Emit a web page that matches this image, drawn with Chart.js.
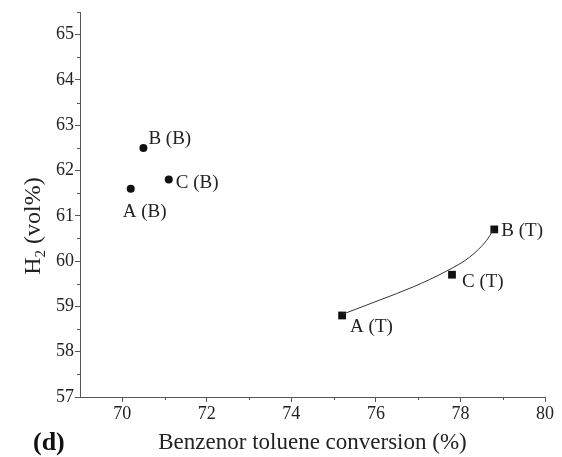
<!DOCTYPE html>
<html>
<head>
<meta charset="utf-8">
<script src="https://cdn.jsdelivr.net/npm/chart.js@4/dist/chart.umd.min.js"></script>
<style>
  html, body { margin: 0; padding: 0; background: #fff; }
  #wrap { width: 562px; height: 457px; position: relative; }
</style>
</head>
<body>
<div id="wrap"><canvas id="myChart"></canvas></div>
<script>
// benzene runs (circles)
const benzLabels = ['A (B)', 'B (B)', 'C (B)'];
const benzX = [70.2, 70.5, 71.1];
const benzY = [61.6, 62.5, 61.8];

// toluene runs (squares)
const tolLabels = ['A (T)', 'B (T)', 'C (T)'];
const tolX = [75.2, 78.8, 77.8];
const tolY = [58.8, 60.7, 59.7];

// fitted curve through the toluene runs
const fitX = [75.22, 76.09, 76.88, 77.67, 78.22, 78.62, 78.77];
const fitY = [58.83, 59.14, 59.43, 59.78, 60.09, 60.46, 60.68];

const serif = "'Liberation Serif', 'Times New Roman', serif";

function toPoints(xs, ys) {
  return xs.map((x, i) => ({ x: x, y: ys[i] }));
}

// where each label sits relative to its marker (px)
const labelOffsets = {
  'A (B)': [-8, 23], 'B (B)': [5, -9], 'C (B)': [7, 3],
  'A (T)': [8, 12], 'B (T)': [7, 2], 'C (T)': [10, 7]
};

const extras = {
  id: 'extras',
  afterDraw(chart) {
    const ctx = chart.ctx;
    const xs = chart.scales.x, ys = chart.scales.y;
    const area = chart.chartArea;
    ctx.save();

    // minor ticks
    ctx.strokeStyle = '#555';
    ctx.lineWidth = 1;
    ctx.beginPath();
    for (let v = 71; v < 80; v += 2) {
      const px = Math.round(xs.getPixelForValue(v)) + 0.5;
      ctx.moveTo(px, area.bottom);
      ctx.lineTo(px, area.bottom + 3);
    }
    for (let v = 57.5; v <= 65.5; v += 1) {
      const py = Math.round(ys.getPixelForValue(v)) + 0.5;
      ctx.moveTo(area.left, py);
      ctx.lineTo(area.left - 3, py);
    }
    ctx.stroke();

    // point labels
    ctx.fillStyle = '#222';
    ctx.font = '19px ' + serif;
    ctx.textBaseline = 'middle';
    ctx.textAlign = 'left';
    [[benzLabels, benzX, benzY], [tolLabels, tolX, tolY]].forEach(([labs, xv, yv]) => {
      labs.forEach((lab, i) => {
        const off = labelOffsets[lab];
        ctx.fillText(lab, xs.getPixelForValue(xv[i]) + off[0], ys.getPixelForValue(yv[i]) + off[1]);
      });
    });

    // y axis title, H with subscript 2
    ctx.translate(32, 226);
    ctx.rotate(-Math.PI / 2);
    ctx.textBaseline = 'alphabetic';
    const h = 'H';
    const rest = ' (vol%)';
    ctx.font = '24px ' + serif;
    const wH = ctx.measureText(h).width;
    const wR = ctx.measureText(rest).width;
    ctx.font = '15px ' + serif;
    const w2 = ctx.measureText('2').width;
    const x0 = -(wH + w2 + wR) / 2;
    ctx.font = '24px ' + serif;
    ctx.fillText(h, x0, 8);
    ctx.fillText(rest, x0 + wH + w2, 8);
    ctx.font = '15px ' + serif;
    ctx.fillText('2', x0 + wH, 13);
    ctx.restore();

    // panel tag
    ctx.save();
    ctx.fillStyle = '#111';
    ctx.font = 'bold 26px ' + serif;
    ctx.textBaseline = 'middle';
    ctx.fillText('(d)', 33, 443);
    ctx.restore();
  }
};

const ctx = document.getElementById('myChart');

new Chart(ctx, {
  type: 'scatter',
  data: {
    datasets: [
      {
        label: 'fit',
        data: toPoints(fitX, fitY),
        showLine: true,
        borderColor: '#333',
        borderWidth: 1,
        pointRadius: 0,
        cubicInterpolationMode: 'monotone'
      },
      {
        label: 'benzene',
        data: toPoints(benzX, benzY),
        pointStyle: 'circle',
        pointRadius: 4,
        backgroundColor: '#111',
        borderColor: '#111',
        borderWidth: 0
      },
      {
        label: 'toluene',
        data: toPoints(tolX, tolY),
        pointStyle: 'rect',
        pointRadius: 5.5,
        backgroundColor: '#111',
        borderColor: '#111',
        borderWidth: 0
      }
    ]
  },
  options: {
    responsive: true,
    maintainAspectRatio: false,
    animation: false,
    layout: { padding: { left: 0, top: 12, right: 17, bottom: 0 } },
    plugins: {
      legend: { display: false },
      tooltip: { enabled: false }
    },
    scales: {
      x: {
        type: 'linear',
        min: 69,
        max: 80,
        afterFit(scale) { scale.height = 60; },
        grid: { drawOnChartArea: false, tickLength: 5, tickColor: '#555' },
        border: { color: '#555', width: 1 },
        ticks: {
          stepSize: 2,
          includeBounds: false,
          maxRotation: 0,
          color: '#222',
          padding: 1,
          font: { family: serif, size: 18 }
        },
        title: {
          display: true,
          text: 'Benzenor toluene conversion (%)',
          color: '#222',
          padding: { top: 0, bottom: 0 },
          font: { family: serif, size: 23 }
        }
      },
      y: {
        type: 'linear',
        min: 57,
        max: 65.5,
        afterFit(scale) { scale.width = 80; },
        grid: { drawOnChartArea: false, tickLength: 5, tickColor: '#555' },
        border: { color: '#555', width: 1 },
        ticks: {
          stepSize: 1,
          includeBounds: false,
          color: '#222',
          padding: 1,
          font: { family: serif, size: 18 }
        }
      }
    }
  },
  plugins: [extras]
});
</script>
</body>
</html>
